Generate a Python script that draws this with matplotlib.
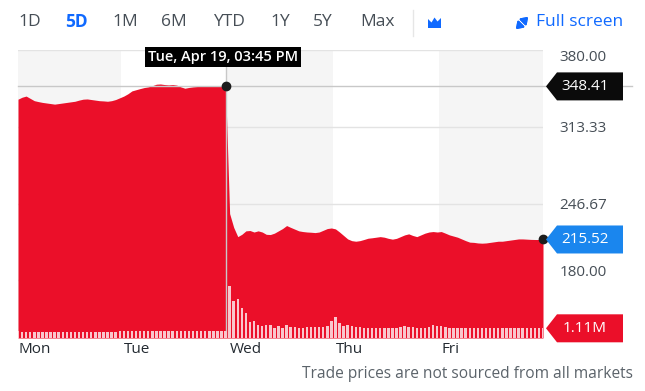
import matplotlib
matplotlib.use('Agg')
import matplotlib.pyplot as plt
from matplotlib.patches import Polygon
from matplotlib.lines import Line2D
import numpy as np

plt.rcParams['font.family'] = ['Open Sans', 'DejaVu Sans']

# ---- data (15 min bars, 26 per day) ----
days = ['Mon', 'Tue', 'Wed', 'Thu', 'Fri']
bars_per_day = 26

price_mon = [337.3, 339, 340, 338, 336, 335.2, 334.5, 334, 333.5, 333, 333.5, 334, 334.5,
             335, 335.5, 336.5, 337.3, 337.5, 337, 336.5, 336, 335.8, 335.5, 336, 337, 338.5]
price_tue = [340, 342, 344.5, 345.5, 346.5, 347.4, 348, 349, 350.3, 350.5, 350, 349.7, 350,
             349.5, 348, 346.8, 347.5, 348, 348.3, 348.5, 348.8, 348.6, 348.4, 348.5, 348.6, 348.41]
price_wed = [238, 226, 218, 220, 223, 223.3, 222, 223, 222, 220, 219.8, 221, 223,
             225, 227.6, 226, 224.5, 223, 222.4, 222, 221.8, 221.5, 222, 223.5, 225, 225.5]
price_thu = [224.7, 222, 219, 216, 214.5, 214, 214.5, 215.5, 216.6, 217, 217.5, 218, 217.5,
             216.5, 215.8, 216.5, 218, 219.5, 220.4, 219, 218, 219.5, 221, 222, 222.4, 222]
price_fri = [222.4, 221, 219.5, 218.5, 217.5, 216, 214.5, 213.2, 213, 212.5, 212.3, 212.5, 213,
             213.5, 214, 214, 214.5, 215, 215.5, 216, 216, 215.8, 215.6, 215.5, 215.5, 215.52]

# volume in millions
vol_mon = [0.8, 0.7, 0.7, 0.7, 0.7, 0.7, 0.7, 0.7, 0.65, 0.7, 0.7, 0.7, 0.7,
           0.7, 0.7, 0.7, 0.7, 0.7, 0.7, 0.7, 0.7, 0.7, 0.7, 0.7, 0.7, 0.75]
vol_tue = [0.85, 0.8, 0.8, 0.8, 0.8, 0.8, 0.8, 0.8, 0.8, 0.8, 0.75, 0.75, 0.75,
           0.75, 0.75, 0.75, 0.75, 0.75, 0.75, 0.75, 0.75, 0.75, 0.75, 0.75, 0.8, 0.8]
vol_wed = [6.0, 4.2, 4.5, 3.4, 2.9, 1.8, 2.0, 1.5, 1.4, 1.5, 1.5, 1.2, 1.4,
           1.2, 1.5, 1.3, 1.3, 1.2, 1.2, 1.3, 1.3, 1.3, 1.3, 1.3, 1.4, 1.9]
vol_thu = [2.4, 1.7, 1.4, 1.5, 1.4, 1.3, 1.3, 1.2, 1.2, 1.1, 1.1, 1.1, 1.1,
           1.1, 1.1, 1.2, 1.3, 1.4, 1.3, 1.3, 1.2, 1.2, 1.2, 1.3, 1.5, 1.4]
vol_fri = [1.4, 1.3, 1.2, 1.2, 1.1, 1.1, 1.1, 1.1, 1.1, 1.1, 1.1, 1.1, 1.1,
           1.1, 1.1, 1.1, 1.1, 1.1, 1.1, 1.1, 1.1, 1.1, 1.1, 1.1, 1.1, 1.11]

price = price_mon + price_tue + price_wed + price_thu + price_fri
volume = vol_mon + vol_tue + vol_wed + vol_thu + vol_fri

y_ticks = [180.00, 246.67, 313.33, 380.00]
y_min, y_max = 130, 380
vol_max = 33
hover_label = 'Tue, Apr 19, 03:45 PM'
hover_idx = 51
hover_price = 348.41
last_price = 215.52
last_volume = 1.11
ranges = ['1D', '5D', '1M', '6M', 'YTD', '1Y', '5Y', 'Max']
range_x = [18, 65, 112, 161, 213, 270, 313, 360]
footnote = 'Trade prices are not sourced from all markets'

RED = '#eb0f29'
BLUE = '#0f69ff'
GREY_TXT = '#464e56'

W, H = 645, 391
fig = plt.figure(figsize=(W / 100, H / 100), dpi=100)


def fx(px):
    return px / W


def fy(py):
    return 1 - py / H


ax = fig.add_axes([fx(18), fy(338), fx(543) - fx(18), fy(50) - fy(338)])
x = np.arange(len(price))
ax.set_xlim(0, len(price) - 1)
ax.set_ylim(y_min, y_max)

# alternating day bands
for d in range(len(days)):
    if d % 2 == 0:
        ax.axvspan(d * bars_per_day - 0.6, (d + 1) * bars_per_day - 0.6,
                   color='#f5f5f5', zorder=0, lw=0)

for t in y_ticks:
    ax.axhline(t, color='#e3e3e3', lw=1, zorder=1)

ax.fill_between(x, price, y_min, color=RED, lw=0, zorder=2)

# volume on its own scale
vax = ax.twinx()
vax.set_ylim(0, vol_max)
vax.bar(x, volume, width=0.6, color='#f9c6cd', lw=0, zorder=3)
vax.set_yticks([])
for s in vax.spines.values():
    s.set_visible(False)

# crosshair
ax.axvline(hover_idx, color='#c8c8c8', lw=1, zorder=4)
ax.plot([0, 1.17], [hover_price, hover_price], transform=ax.get_yaxis_transform(),
        color='#c8c8c8', lw=1, zorder=4, clip_on=False)
ax.plot([hover_idx], [hover_price], 'o', color='#1d1d1d', ms=6, zorder=6)
ax.plot([x[-1]], [last_price], 'o', color='#1d1d1d', ms=6, zorder=6, clip_on=False)

# axes styling
for s in ax.spines.values():
    s.set_visible(False)
ax.yaxis.tick_right()
ax.set_yticks(y_ticks)
ax.set_yticklabels(['%.2f' % t for t in y_ticks], fontsize=11, color=GREY_TXT)
ax.tick_params(axis='y', length=0, pad=12)
labs = ax.get_yticklabels()
labs[0].set_va('bottom')
labs[-1].set_va('top')
ax.set_xticks([d * bars_per_day for d in range(len(days))])
ax.set_xticklabels(days, fontsize=11, color='#232a31', ha='left')
ax.tick_params(axis='x', length=0, pad=3)

fig.canvas.draw()


def price_tag(ax_, value, text, color):
    ypx = H - ax_.transData.transform((0, value))[1]
    h = 14
    pts = [(546, ypx), (557, ypx - h), (623, ypx - h), (623, ypx + h), (557, ypx + h)]
    fig.patches.append(Polygon([(fx(a), fy(b)) for a, b in pts], closed=True,
                               transform=fig.transFigure, facecolor=color, lw=0))
    fig.text(fx(585), fy(ypx), text, color='white', fontsize=11,
             ha='center', va='center')


price_tag(ax, hover_price, '%.2f' % hover_price, '#0b0b0b')
price_tag(ax, last_price, '%.2f' % last_price, '#1a86ee')
price_tag(vax, last_volume, '%.2fM' % last_volume, RED)

# hover date tooltip
fig.text(fx(223), fy(57), hover_label, color='white', fontsize=10.5, fontweight='semibold',
         ha='center', va='center',
         bbox=dict(boxstyle='square,pad=0.2', facecolor='black', edgecolor='none'))

# toolbar
for r, px in zip(ranges, range_x):
    fig.text(fx(px), fy(22), r, fontsize=12.5, ha='left', va='center',
             color=BLUE if r == '5D' else GREY_TXT,
             fontweight='bold' if r == '5D' else 'normal')
fig.add_artist(Line2D([fx(413), fx(413)], [fy(10), fy(36)], color='#e6e6e6', lw=1))
icon = [(428, 28), (428, 19), (431.5, 22.5), (434.5, 17.5), (437.5, 21.5), (441, 18), (441, 28)]
fig.patches.append(Polygon([(fx(a), fy(b)) for a, b in icon], closed=True,
                           transform=fig.transFigure, facecolor=BLUE, lw=0))
arrow = dict(arrowstyle='-|>,head_width=0.25,head_length=0.35', color=BLUE, lw=1.6)
fig.add_artist(plt.annotate('', xy=(fx(530), fy(15)), xytext=(fx(524), fy(21)),
                            xycoords='figure fraction', arrowprops=arrow))
fig.add_artist(plt.annotate('', xy=(fx(514), fy(31)), xytext=(fx(520), fy(25)),
                            xycoords='figure fraction', arrowprops=arrow))
fig.text(fx(536), fy(22), 'Full screen', fontsize=12.5, color=BLUE, ha='left', va='center')

fig.text(fx(633), fy(374), footnote, fontsize=11.2, color='#5b636a', ha='right', va='center')

fig.savefig('out.png', dpi=100)
